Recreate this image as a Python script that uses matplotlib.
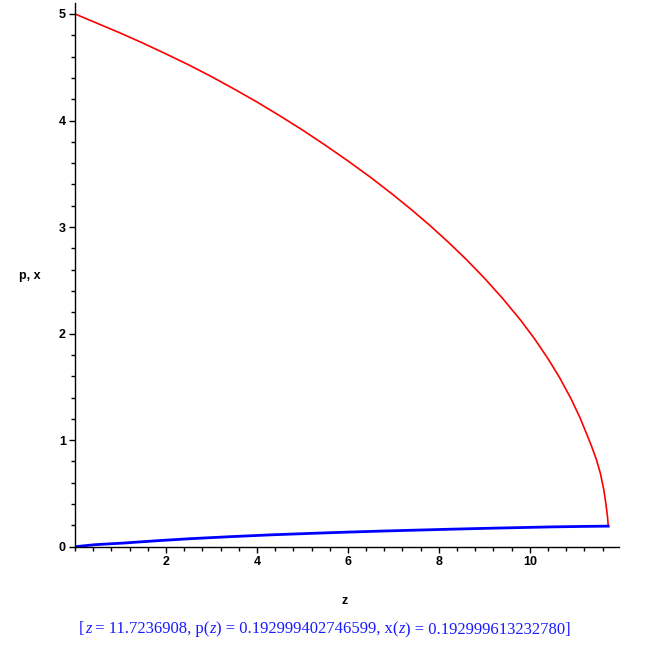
import matplotlib
matplotlib.use("Agg")
import matplotlib.pyplot as plt
from matplotlib.ticker import MultipleLocator

# Data
z_p = [0.0, 0.5, 1.0, 1.5, 2.0, 2.5, 3.0, 3.5, 4.0, 4.5, 5.0, 5.5, 6.0, 6.5,
       7.0, 7.4, 7.8, 8.2, 8.6, 9.0, 9.4, 9.8, 10.1, 10.4, 10.65, 10.9,
       11.1, 11.23, 11.355, 11.465, 11.55, 11.627, 11.67, 11.707, 11.7236908]
p_vals = [5.0, 4.91, 4.82, 4.725, 4.625, 4.522, 4.412, 4.295, 4.174, 4.045,
          3.911, 3.769, 3.621, 3.466, 3.301, 3.162, 3.016, 2.861, 2.697,
          2.521, 2.331, 2.124, 1.953, 1.764, 1.590, 1.393, 1.213, 1.078,
          0.945, 0.815, 0.689, 0.532, 0.407, 0.282, 0.192999]

z_x = [0.0, 0.44, 1.06, 1.80, 2.53, 3.41, 4.29, 5.31, 6.0, 6.85, 8.24, 9.19,
       10.5, 11.2, 11.7236908]
x_vals = [0.0, 0.019, 0.034, 0.056, 0.075, 0.094, 0.111, 0.127, 0.137, 0.148,
          0.164, 0.174, 0.186, 0.1905, 0.192999]

xticks = [2, 4, 6, 8, 10]
yticks = [0, 1, 2, 3, 4, 5]
# caption pieces: (text, italic?)
caption_parts = [("[", False), ("z", True), (" = 11.7236908, p(", False),
                 ("z", True), (") = 0.192999402746599, x(", False),
                 ("z", True), (") = 0.192999613232780]", False)]

W, H = 654, 662
fig = plt.figure(figsize=(W / 100, H / 100), dpi=100)
ax = fig.add_axes([75 / W, (H - 546.7) / H, 544 / W, 543.4 / H])

ax.plot(z_p, p_vals, color='#ff0000', lw=1.2, solid_joinstyle='round')
ax.plot(z_x, x_vals, color='#0000ff', lw=2.0, solid_joinstyle='round')

ax.set_xlim(0, 11.96)
ax.set_ylim(0, 5.10)
for s in ['top', 'right']:
    ax.spines[s].set_visible(False)
for s in ['left', 'bottom']:
    ax.spines[s].set_linewidth(1.0)

ax.set_xticks(xticks)
ax.set_yticks(yticks)
ax.set_xticklabels([str(t) for t in xticks])
ax.set_yticklabels([str(t) for t in yticks])
ax.xaxis.set_minor_locator(MultipleLocator(0.4))
ax.yaxis.set_minor_locator(MultipleLocator(0.2))
ax.tick_params(which='major', direction='out', length=4.5, width=1.0,
               labelsize=9, pad=2)
ax.tick_params(which='minor', direction='out', length=3, width=1.0)
for lab in ax.get_xticklabels() + ax.get_yticklabels():
    lab.set_fontweight('bold')
    lab.set_family('Liberation Sans')

fig.text(30 / W, 1 - 276 / H, "p, x", fontsize=9, fontweight='bold',
         family='Liberation Sans', ha='center', va='center')
fig.text(345 / W, 1 - 601 / H, "z", fontsize=9, fontweight='bold',
         family='Liberation Sans', ha='center', va='center')

# caption built from pieces (italic z), centred
renderer = fig.canvas.get_renderer()
texts = []
for s, it in caption_parts:
    t = fig.text(0, 1 - 629 / H, s, fontsize=12, color='#1a1aff',
                 family='Liberation Serif',
                 style='italic' if it else 'normal',
                 ha='left', va='center')
    texts.append(t)
widths = [t.get_window_extent(renderer).width for t in texts]
x0 = 325 - sum(widths) / 2
for t, w in zip(texts, widths):
    t.set_x(x0 / W)
    x0 += w

fig.savefig("out.png", dpi=100)
